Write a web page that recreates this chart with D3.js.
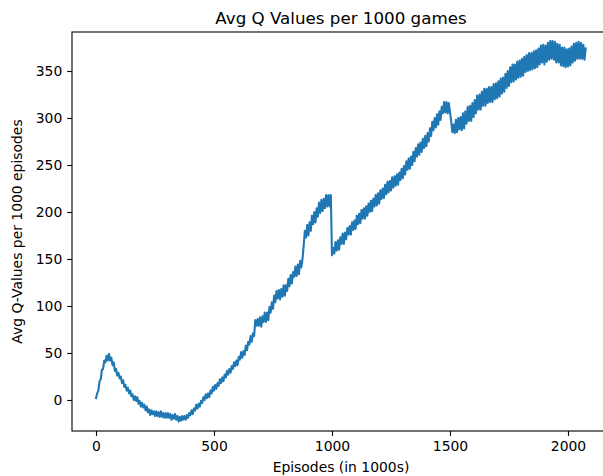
<!DOCTYPE html>
<html>
<head>
<meta charset="utf-8">
<script src="https://cdn.jsdelivr.net/npm/d3@7"></script>
<style>
  body { margin: 0; background: #fff; }
  text { font-family: "DejaVu Sans", sans-serif; fill: #000; }
</style>
</head>
<body>
<div class="chart"></div>
<script>
// one value every 5 (x1000) episodes
let episodeStep = 5;
let qValues = [
  2, 7, 10, 20, 22, 32, 33, 42, 40, 47,
  42, 49, 42, 45, 37, 40, 31, 33, 26, 29,
  23, 25, 18, 21, 14, 16, 10, 13, 7, 10,
  4, 6, 0, 4, -1, 3, -4, -1, -7, -3,
  -8, -5, -11, -7, -13, -10, -16, -11, -15, -12,
  -17, -12, -17, -13, -18, -12, -18, -14, -19, -14,
  -19, -14, -19, -15, -21, -16, -20, -15, -21, -17,
  -23, -18, -22, -17, -21, -17, -21, -16, -19, -14,
  -16, -11, -15, -9, -11, -5, -9, -4, -7, -1,
  -3, 3, 0, 6, 2, 7, 3, 10, 7, 14,
  10, 16, 12, 18, 15, 22, 18, 24, 20, 27,
  24, 31, 27, 33, 29, 36, 33, 40, 36, 42,
  37, 46, 43, 51, 45, 52, 48, 58, 53, 62,
  59, 68, 62, 71, 68, 85, 79, 86, 79, 88,
  78, 89, 83, 93, 83, 93, 85, 99, 93, 104,
  97, 111, 104, 116, 108, 117, 107, 118, 110, 122,
  111, 122, 116, 129, 121, 133, 124, 136, 131, 142,
  132, 144, 134, 148, 141, 150, 164, 180, 173, 186,
  175, 189, 180, 196, 187, 200, 189, 204, 195, 210,
  199, 213, 201, 214, 204, 218, 206, 218, 206, 218,
  154, 162, 156, 168, 159, 170, 160, 173, 166, 177,
  166, 178, 171, 183, 176, 185, 176, 189, 181, 191,
  182, 196, 187, 198, 188, 202, 193, 204, 193, 206,
  196, 209, 200, 212, 201, 214, 206, 218, 207, 220,
  209, 223, 214, 225, 215, 229, 219, 232, 221, 233,
  223, 237, 226, 238, 228, 240, 229, 242, 234, 246,
  236, 249, 240, 254, 245, 257, 246, 259, 250, 264,
  254, 268, 259, 272, 261, 274, 264, 278, 268, 281,
  270, 284, 275, 289, 281, 296, 287, 300, 290, 304,
  293, 307, 298, 312, 305, 317, 306, 317, 305, 316,
  306, 297, 285, 293, 284, 298, 285, 300, 288, 301,
  287, 305, 289, 307, 294, 312, 297, 313, 297, 316,
  301, 319, 305, 324, 309, 325, 309, 328, 313, 331,
  313, 331, 316, 333, 317, 333, 317, 336, 320, 337,
  321, 339, 323, 342, 326, 343, 328, 347, 332, 350,
  334, 354, 338, 357, 339, 357, 341, 360, 343, 361,
  344, 363, 345, 365, 349, 367, 350, 369, 351, 369,
  352, 371, 353, 372, 354, 374, 357, 377, 359, 378,
  357, 377, 360, 380, 362, 382, 363, 382, 362, 381,
  359, 379, 359, 378, 356, 375, 355, 375, 354, 373,
  355, 374, 356, 376, 359, 379, 361, 380, 363, 381,
  363, 380, 363, 378, 362, 374
];
let xTicks = [0, 500, 1000, 1500, 2000];
let yTicks = [0, 50, 100, 150, 200, 250, 300, 350];

let W = 603, H = 476;
let margin = { top: 32, right: -7, bottom: 45, left: 72 };
let width = W - margin.left - margin.right;
let height = H - margin.top - margin.bottom;

let svg = d3.select('.chart')
  .append('svg')
    .attr('width', W)
    .attr('height', H)
  .append('g')
    .attr('transform', `translate(${margin.left}, ${margin.top})`);

let xScale = d3.scaleLinear()
  .domain([-101.7, 2178])
  .range([0, width]);

let yScale = d3.scaleLinear()
  .domain([-33, 391.5])
  .range([height, 0]);

let tick = 4.86;

let xAxis = d3.axisBottom(xScale)
  .tickValues(xTicks)
  .tickFormat(d3.format('d'))
  .tickSize(tick)
  .tickPadding(tick);

let yAxis = d3.axisLeft(yScale)
  .tickValues(yTicks)
  .tickFormat(d3.format('d'))
  .tickSize(tick)
  .tickPadding(tick);

let gx = svg.append('g')
  .attr('transform', `translate(0, ${height})`)
  .call(xAxis);

let gy = svg.append('g').call(yAxis);

[gx, gy].forEach(g => {
  g.select('.domain').remove();
  g.selectAll('line').attr('stroke', '#000').attr('stroke-width', 1.1);
  g.selectAll('text')
    .style('font-family', '"DejaVu Sans", sans-serif')
    .style('font-size', '13.9px')
    .attr('fill', '#000');
});

let line = d3.line()
  .x((d, i) => xScale(i * episodeStep))
  .y(d => yScale(d));

svg.append('path')
  .datum(qValues)
  .attr('fill', 'none')
  .attr('stroke', '#1f77b4')
  .attr('stroke-width', 2.1)
  .attr('stroke-linejoin', 'round')
  .attr('stroke-linecap', 'square')
  .attr('d', line);

// spines
svg.append('rect')
  .attr('width', width)
  .attr('height', height)
  .attr('fill', 'none')
  .attr('stroke', '#000')
  .attr('stroke-width', 1.1);

svg.append('text')
  .attr('x', width / 2)
  .attr('y', -8.5)
  .attr('text-anchor', 'middle')
  .style('font-size', '16.7px')
  .text('Avg Q Values per 1000 games');

svg.append('text')
  .attr('x', width / 2)
  .attr('y', height + 41)
  .attr('text-anchor', 'middle')
  .style('font-size', '13.9px')
  .text('Episodes (in 1000s)');

svg.append('text')
  .attr('transform', `translate(${-50}, ${height / 2}) rotate(-90)`)
  .attr('text-anchor', 'middle')
  .style('font-size', '13.9px')
  .text('Avg Q-Values per 1000 episodes');
</script>
</body>
</html>
